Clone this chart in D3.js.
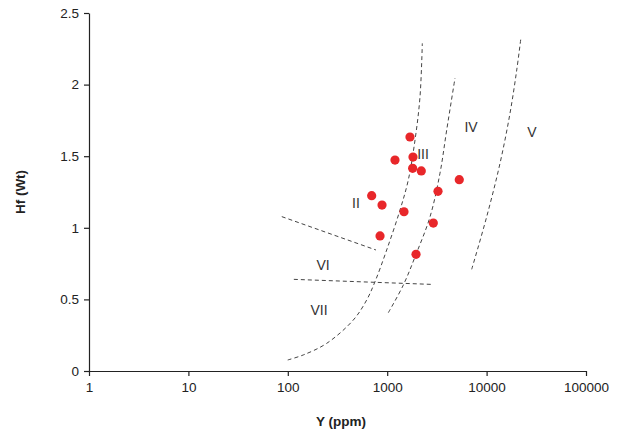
<!DOCTYPE html>
<html>
<head>
<meta charset="utf-8">
<script src="https://cdn.jsdelivr.net/npm/d3@7"></script>
<style>
  body { margin: 0; background: #fff; }
  svg text { font-family: Arial, "Liberation Sans", Helvetica, sans-serif; }
</style>
</head>
<body>
<svg id="chart"></svg>
<script>
// sample points: Y (ppm) and Hf (Wt)
var sampleY  = [1695, 1818, 1198, 1803, 2203, 5310, 3244, 698, 887, 1476, 2910, 847, 1950];
var sampleHf = [1.634, 1.494, 1.473, 1.415, 1.397, 1.336, 1.255, 1.224, 1.159, 1.112, 1.033, 0.943, 0.815];

// field boundaries (dashed)
var curve1Y  = [99.8, 143, 246, 456, 622, 754, 988, 1345, 1630, 1905, 2138, 2255];
var curve1Hf = [0.077, 0.112, 0.193, 0.356, 0.496, 0.624, 0.845, 1.124, 1.334, 1.613, 1.915, 2.288];
var curve2Y  = [1026, 1452, 1950, 2697, 3396, 3969, 4806];
var curve2Hf = [0.407, 0.600, 0.815, 1.077, 1.381, 1.683, 2.044];
var curve3Y  = [7080, 10020, 13640, 17200, 20100, 22180];
var curve3Hf = [0.710, 1.077, 1.450, 1.800, 2.102, 2.330];
var lineVIY  = [87, 771];
var lineVIHf = [1.078, 0.845];
var lineVIIY  = [115, 2760];
var lineVIIHf = [0.640, 0.605];

// field labels
var fieldNames = ["II", "III", "IV", "V", "VI", "VII"];
var fieldY     = [485, 2291, 6970, 28640, 226, 206];
var fieldHf    = [1.173, 1.515, 1.704, 1.669, 0.740, 0.426];

var xTicks = [1, 10, 100, 1000, 10000, 100000];
var yTicks = [0, 0.5, 1, 1.5, 2, 2.5];

var svgWidth = 621, svgHeight = 433;
var margin = {top: 13, right: 35, bottom: 62, left: 89};
var plotWidth = svgWidth - margin.left - margin.right;
var plotHeight = svgHeight - margin.top - margin.bottom;

var svg = d3.select("#chart")
  .attr("width", svgWidth)
  .attr("height", svgHeight);

var plot = svg.append("g")
  .attr("transform", "translate(" + margin.left + "," + margin.top + ")");

var x = d3.scaleLog().domain([1, 100000]).range([0, plotWidth]);
var y = d3.scaleLinear().domain([0, 2.5]).range([plotHeight, 0]);

// axes
var xAxis = d3.axisBottom(x).tickValues(xTicks).tickFormat(d3.format("d"))
  .tickSizeInner(5).tickSizeOuter(0).tickPadding(6);
var yAxis = d3.axisLeft(y).tickValues(yTicks).tickFormat(function(d){ return String(d); })
  .tickSizeInner(5).tickSizeOuter(0).tickPadding(5);

var xGroup = plot.append("g").attr("transform", "translate(0," + plotHeight + ")").call(xAxis);
var yGroup = plot.append("g").call(yAxis);

[xGroup, yGroup].forEach(function(g){
  g.selectAll("path").attr("stroke", "#222").attr("stroke-width", 1.2);
  g.selectAll("line").attr("stroke", "#222").attr("stroke-width", 1.2);
  g.selectAll("text").attr("font-size", 13.5).attr("fill", "#222")
    .style("font-family", "Arial, 'Liberation Sans', sans-serif");
});

// axis titles
svg.append("text")
  .attr("x", 341).attr("y", 426)
  .attr("text-anchor", "middle")
  .attr("font-size", 13.5).attr("font-weight", "bold").attr("fill", "#222")
  .text("Y (ppm)");

svg.append("text")
  .attr("transform", "translate(25," + (margin.top + plotHeight / 2) + ") rotate(-90)")
  .attr("text-anchor", "middle")
  .attr("font-size", 13.5).attr("font-weight", "bold").attr("fill", "#222")
  .text("Hf (Wt)");

// dashed boundaries
function zipPts(xs, ys){ return xs.map(function(v, i){ return [v, ys[i]]; }); }

var curveLine = d3.line()
  .x(function(d){ return x(d[0]); })
  .y(function(d){ return y(d[1]); })
  .curve(d3.curveCatmullRom);

var boundaries = [
  zipPts(curve1Y, curve1Hf),
  zipPts(curve2Y, curve2Hf),
  zipPts(curve3Y, curve3Hf),
  zipPts(lineVIY, lineVIHf),
  zipPts(lineVIIY, lineVIIHf)
];

plot.selectAll("path.boundary")
  .data(boundaries)
  .enter().append("path")
  .attr("class", "boundary")
  .attr("d", curveLine)
  .attr("fill", "none")
  .attr("stroke", "#444")
  .attr("stroke-width", 1)
  .attr("stroke-dasharray", "4,3");

// field labels
plot.selectAll("text.field")
  .data(fieldNames)
  .enter().append("text")
  .attr("class", "field")
  .attr("x", function(d, i){ return x(fieldY[i]); })
  .attr("y", function(d, i){ return y(fieldHf[i]); })
  .attr("dy", "0.36em")
  .attr("text-anchor", "middle")
  .attr("font-size", 14)
  .attr("fill", "#333")
  .text(function(d){ return d; });

// samples
plot.selectAll("circle")
  .data(sampleY)
  .enter().append("circle")
  .attr("cx", function(d){ return x(d); })
  .attr("cy", function(d, i){ return y(sampleHf[i]); })
  .attr("r", 4.6)
  .attr("fill", "#e8272a");
</script>
</body>
</html>
